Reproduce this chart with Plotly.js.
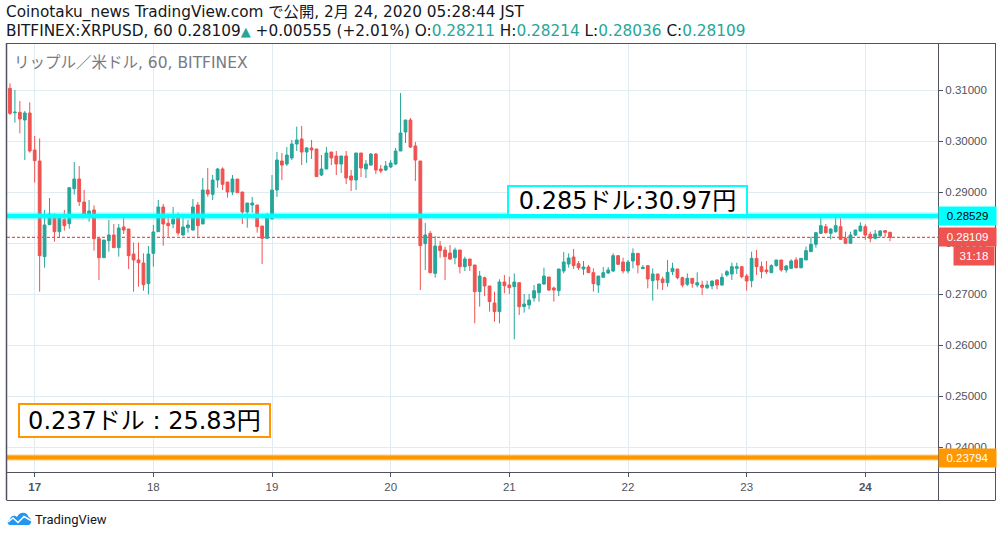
<!DOCTYPE html>
<html>
<head>
<meta charset="utf-8">
<script src="https://cdn.plot.ly/plotly-3.0.1.min.js"></script>
<style>
html,body{margin:0;padding:0;background:#fff;}
#chart{width:1002px;height:537px;}
</style>
</head>
<body>
<div id="chart"></div>
<script>
// ---- data (hourly candles, BITFINEX:XRPUSD, 60) ----
const startTime = '2020-02-16T19:00:00Z';
const open = [0.31033,0.30555,0.30562,0.30412,0.30549,0.29824,0.29608,0.27732,0.28360,0.28549,
0.28222,0.28464,0.28379,0.29065,0.29255,0.28804,0.28536,0.28647,0.28085,0.27712,
0.28046,0.28157,0.27909,0.28314,0.28275,0.27784,0.27667,0.27608,0.27203,0.27797,
0.28222,0.28706,0.28386,0.28373,0.28497,0.28157,0.28301,0.28255,0.28745,0.28373,
0.29039,0.28954,0.29235,0.29451,0.29196,0.29000,0.29255,0.29000,0.28608,0.28745,
0.28745,0.28333,0.28092,0.28471,0.29039,0.29608,0.29549,0.29667,0.29941,0.30039,
0.29784,0.29863,0.29843,0.29333,0.29451,0.29784,0.29706,0.29549,0.29706,0.29314,
0.29235,0.29765,0.29451,0.29529,0.29745,0.29451,0.29431,0.29490,0.29549,0.29804,
0.30176,0.30412,0.29902,0.29608,0.27987,0.28190,0.27405,0.27941,0.27863,0.27804,
0.27712,0.27863,0.27536,0.27686,0.27569,0.27046,0.27320,0.27157,0.26824,0.26654,
0.27235,0.27177,0.27144,0.27222,0.26752,0.26784,0.26922,0.27026,0.27196,0.27333,
0.27118,0.27065,0.27451,0.27588,0.27725,0.27595,0.27490,0.27529,0.27418,0.27177,
0.27327,0.27412,0.27451,0.27752,0.27627,0.27451,0.27647,0.27797,0.27497,0.27556,
0.27261,0.27392,0.27294,0.27222,0.27438,0.27490,0.27320,0.27190,0.27307,0.27176,
0.27176,0.27124,0.27157,0.27275,0.27176,0.27373,0.27392,0.27503,0.27536,0.27353,
0.27261,0.27699,0.27536,0.27471,0.27418,0.27556,0.27667,0.27471,0.27503,0.27667,
0.27516,0.27667,0.27830,0.27974,0.28190,0.28320,0.28190,0.28222,0.28320,0.28092,
0.27993,0.28157,0.28235,0.28320,0.28170,0.28092,0.28144,0.28242,0.28211];
const high = [0.31131,0.31000,0.30784,0.30588,0.30758,0.30098,0.30052,0.28647,0.28882,0.28582,
0.28490,0.28647,0.29085,0.29588,0.29510,0.29039,0.28843,0.28739,0.28085,0.28059,
0.28451,0.28373,0.28373,0.28510,0.28275,0.28007,0.28007,0.27797,0.27941,0.28353,
0.28843,0.28765,0.28490,0.28706,0.28595,0.28529,0.28451,0.28863,0.28804,0.29275,
0.29471,0.29333,0.29471,0.29484,0.29196,0.29333,0.29255,0.29000,0.28784,0.28902,
0.28745,0.28333,0.28588,0.29333,0.29784,0.29765,0.29882,0.30020,0.30281,0.30294,
0.29882,0.30020,0.29843,0.29725,0.29882,0.29784,0.29804,0.29706,0.29804,0.29431,
0.29765,0.29765,0.29627,0.29765,0.29765,0.29529,0.29608,0.29627,0.29863,0.30941,
0.30412,0.30451,0.29980,0.29608,0.28392,0.28235,0.28137,0.28039,0.27928,0.27961,
0.27909,0.27863,0.27732,0.27686,0.27569,0.27451,0.27340,0.27157,0.27046,0.27288,
0.27373,0.27340,0.27405,0.27222,0.27000,0.27000,0.27177,0.27196,0.27516,0.27333,
0.27144,0.27490,0.27824,0.27797,0.27882,0.27647,0.27647,0.27569,0.27503,0.27353,
0.27529,0.27529,0.27797,0.27752,0.27712,0.27667,0.27895,0.27797,0.27569,0.27569,
0.27503,0.27392,0.27340,0.27667,0.27614,0.27490,0.27340,0.27405,0.27307,0.27425,
0.27261,0.27261,0.27261,0.27288,0.27405,0.27471,0.27614,0.27614,0.27536,0.27392,
0.27830,0.27863,0.27634,0.27647,0.27582,0.27667,0.27667,0.27569,0.27680,0.27719,
0.27699,0.27928,0.28124,0.28209,0.28516,0.28373,0.28288,0.28516,0.28516,0.28222,
0.28222,0.28255,0.28405,0.28366,0.28222,0.28255,0.28255,0.28255,0.28214];
const low = [0.30510,0.30360,0.30150,0.29628,0.29771,0.29183,0.27046,0.27516,0.28360,0.28026,
0.28111,0.28242,0.28281,0.28948,0.28725,0.28549,0.28418,0.27850,0.27275,0.27712,
0.27830,0.27909,0.27732,0.28177,0.27490,0.27046,0.27144,0.27065,0.26994,0.27536,
0.28222,0.27948,0.28124,0.28288,0.28144,0.28144,0.28203,0.28242,0.28092,0.28373,
0.28909,0.28843,0.29085,0.29039,0.28889,0.28941,0.28987,0.28373,0.28301,0.28595,
0.28203,0.27588,0.28092,0.28471,0.28902,0.29235,0.29510,0.29627,0.29804,0.29529,
0.29569,0.29647,0.29301,0.29314,0.29451,0.29529,0.29333,0.29373,0.29157,0.29020,
0.29039,0.29294,0.29275,0.29510,0.29353,0.29373,0.29412,0.29471,0.29529,0.29804,
0.29961,0.29863,0.29216,0.27078,0.27471,0.27405,0.27320,0.27712,0.27275,0.27667,
0.27582,0.27405,0.27451,0.27451,0.26425,0.26752,0.26961,0.26654,0.26458,0.26425,
0.27013,0.27000,0.26111,0.26588,0.26634,0.26699,0.26850,0.26850,0.27177,0.27059,
0.26850,0.26961,0.27405,0.27516,0.27490,0.27471,0.27373,0.27418,0.27046,0.27020,
0.27327,0.27392,0.27431,0.27569,0.27405,0.27405,0.27503,0.27405,0.27490,0.27111,
0.26869,0.27092,0.27078,0.27144,0.27373,0.27288,0.27131,0.27157,0.27124,0.27131,
0.26980,0.27098,0.27092,0.27092,0.27163,0.27340,0.27275,0.27392,0.27307,0.27065,
0.27131,0.27373,0.27307,0.27392,0.27418,0.27536,0.27438,0.27418,0.27490,0.27503,
0.27503,0.27667,0.27830,0.27908,0.28176,0.28183,0.28072,0.28203,0.28059,0.27980,
0.27993,0.28137,0.28222,0.28059,0.28013,0.28072,0.28111,0.28124,0.28036];
const close = [0.30543,0.30565,0.30431,0.30549,0.29804,0.29614,0.27752,0.28353,0.28569,0.28222,
0.28490,0.28340,0.29085,0.29255,0.28810,0.28549,0.28627,0.28085,0.27712,0.28059,
0.28157,0.27909,0.28294,0.28255,0.27752,0.27667,0.27614,0.27183,0.27784,0.28216,
0.28706,0.28373,0.28340,0.28471,0.28196,0.28314,0.28353,0.28706,0.28340,0.29039,
0.28961,0.29235,0.29451,0.29150,0.29000,0.29255,0.28987,0.28608,0.28784,0.28784,
0.28320,0.28092,0.28490,0.29039,0.29627,0.29529,0.29725,0.29941,0.30020,0.29784,
0.29863,0.29824,0.29301,0.29451,0.29765,0.29667,0.29549,0.29706,0.29275,0.29235,
0.29765,0.29471,0.29549,0.29745,0.29431,0.29412,0.29510,0.29569,0.29804,0.30157,
0.30412,0.29882,0.29627,0.27948,0.28157,0.27418,0.27941,0.27850,0.27732,0.27686,
0.27863,0.27536,0.27686,0.27556,0.27046,0.27353,0.27157,0.26850,0.26654,0.27235,
0.27163,0.27124,0.27235,0.26752,0.26804,0.26882,0.27065,0.27196,0.27353,0.27078,
0.27078,0.27490,0.27627,0.27706,0.27556,0.27516,0.27529,0.27418,0.27203,0.27353,
0.27418,0.27471,0.27752,0.27582,0.27451,0.27627,0.27797,0.27569,0.27523,0.27294,
0.27392,0.27275,0.27222,0.27425,0.27503,0.27320,0.27176,0.27307,0.27209,0.27222,
0.27131,0.27176,0.27255,0.27176,0.27327,0.27438,0.27536,0.27536,0.27340,0.27255,
0.27699,0.27536,0.27438,0.27438,0.27556,0.27667,0.27471,0.27549,0.27647,0.27516,
0.27699,0.27850,0.27974,0.28203,0.28340,0.28203,0.28274,0.28340,0.28072,0.27993,
0.28157,0.28255,0.28333,0.28157,0.28092,0.28176,0.28235,0.28209,0.28109];

const dayTicks = ['2020-02-17','2020-02-18','2020-02-19','2020-02-20','2020-02-21','2020-02-22','2020-02-23','2020-02-24'];
const dayLabels = ['17','18','19','20','21','22','23','24'];
const levelValues = [0.28529, 0.23794];           // horizontal lines
const levelNotes = ['0.285ドル:30.97円', '0.237ドル : 25.83円'];
const headerTitle = 'Coinotaku_news TradingView.com で公開, 2月 24, 2020 05:28:44 JST';
const symbolName = 'BITFINEX:XRPUSD, 60';
const changeText = '+0.00555 (+2.01%)';
const countdown = '31:18';
const watermark = 'リップル／米ドル, 60, BITFINEX';

// ---- build times ----
function fmt(d){
  const p=n=>String(n).padStart(2,'0');
  return d.getUTCFullYear()+'-'+p(d.getUTCMonth()+1)+'-'+p(d.getUTCDate())+' '+p(d.getUTCHours())+':'+p(d.getUTCMinutes());
}
const t0 = Date.parse(startTime);
const times = open.map((_,i)=>fmt(new Date(t0+i*3600000)));

// ---- layout geometry (pixels) ----
const W=1002,H=537, PL=7, PR=938, PT=43, PB=472;
const px = x => (x-PL)/(PR-PL);
const py = y => (PB-y)/(PB-PT);
const UP='#26a69a', DN='#ef5350', FRAME='#50535e', GRID='#e1ecf2';
const last = close.length-1;
const fmt5 = v => v.toFixed(5);
const HFONT = '"DejaVu Sans", "Noto Sans CJK JP", sans-serif';

const trace = {
  type:'candlestick', x:times, open:open, high:high, low:low, close:close,
  increasing:{line:{color:UP,width:1}, fillcolor:UP},
  decreasing:{line:{color:DN,width:1}, fillcolor:DN},
  whiskerwidth:0, hoverinfo:'skip'
};

const yRange=[0.235098,0.319216];
const xRange=['2020-02-16 18:24','2020-02-24 14:42'];

const shapes = [
  // price level lines
  {type:'line', xref:'paper', x0:0, x1:1, yref:'y', y0:levelValues[0], y1:levelValues[0], line:{color:'rgba(0,255,255,0.45)', width:7}, layer:'above'},
  {type:'line', xref:'paper', x0:0, x1:1, yref:'y', y0:levelValues[0], y1:levelValues[0], line:{color:'#00ffff', width:4}, layer:'above'},
  {type:'line', xref:'paper', x0:0, x1:1, yref:'y', y0:levelValues[1], y1:levelValues[1], line:{color:'rgba(255,152,0,0.45)', width:6}, layer:'above'},
  {type:'line', xref:'paper', x0:0, x1:1, yref:'y', y0:levelValues[1], y1:levelValues[1], line:{color:'#ff9800', width:4}, layer:'above'},
  // last price dashed line
  {type:'line', xref:'paper', x0:0, x1:1, yref:'y', y0:close[last], y1:close[last], line:{color:DN, width:1.3, dash:'3px,2px'}, layer:'above'},
  // frame
  {type:'line', xref:'paper', yref:'paper', x0:px(6.5), x1:px(6.5), y0:py(43), y1:py(500), line:{color:FRAME,width:1.5}},
  {type:'line', xref:'paper', yref:'paper', x0:px(995.5), x1:px(995.5), y0:py(43), y1:py(500), line:{color:FRAME,width:1}},
  {type:'line', xref:'paper', yref:'paper', x0:px(6.5), x1:px(995.5), y0:py(43.5), y1:py(43.5), line:{color:FRAME,width:1}},
  {type:'line', xref:'paper', yref:'paper', x0:px(6.5), x1:px(995.5), y0:py(500.5), y1:py(500.5), line:{color:FRAME,width:1}},
  {type:'line', xref:'paper', yref:'paper', x0:px(938.5), x1:px(938.5), y0:py(43), y1:py(500), line:{color:FRAME,width:1}},
  {type:'line', xref:'paper', yref:'paper', x0:px(6.5), x1:px(995.5), y0:py(472.5), y1:py(472.5), line:{color:FRAME,width:1}}
];

const tagFont = {family:'Liberation Sans, Arial, sans-serif', size:11.5};
const annotations = [
  {xref:'paper', yref:'paper', x:px(5), y:py(13), xanchor:'left', yanchor:'middle', showarrow:false, borderpad:0,
   text:headerTitle, font:{family:HFONT, size:15.3, color:'#131722'}},
  {xref:'paper', yref:'paper', x:px(5), y:py(31), xanchor:'left', yanchor:'middle', showarrow:false, borderpad:0,
   text: symbolName+' '+fmt5(close[last])+'<span style="color:'+UP+';font-size:13px">▲</span> '+changeText+
     ' O:<span style="color:'+UP+'">'+fmt5(open[last])+'</span> H:<span style="color:'+UP+'">'+fmt5(high[last])+
     '</span> L:<span style="color:'+UP+'">'+fmt5(low[last])+'</span> C:<span style="color:'+UP+'">'+fmt5(close[last])+'</span>',
   font:{family:HFONT, size:15.3, color:'#131722'}},
  {xref:'paper', yref:'paper', x:px(13), y:py(63), xanchor:'left', yanchor:'middle', showarrow:false, borderpad:0,
   text:watermark, font:{family:HFONT, size:15.5, color:'#787b86'}},
  // level notes
  {xref:'paper', yref:'paper', x:px(507), y:py(185), xanchor:'left', yanchor:'top', showarrow:false,
   text:levelNotes[0], font:{family:'"DejaVu Sans", "Noto Sans CJK JP", sans-serif', size:24, color:'#000'},
   bgcolor:'#ffffff', bordercolor:'#00ffff', borderwidth:2, borderpad:0, width:237, height:27, align:'center'},
  {xref:'paper', yref:'paper', x:px(18), y:py(403), xanchor:'left', yanchor:'top', showarrow:false,
   text:levelNotes[1], font:{family:'"DejaVu Sans", "Noto Sans CJK JP", sans-serif', size:24, color:'#000'},
   bgcolor:'#ffffff', bordercolor:'#ff9800', borderwidth:2, borderpad:0, width:249, height:31, align:'center'},
  // price axis tags
  {xref:'paper', yref:'y', x:1, y:levelValues[0], xanchor:'left', yanchor:'middle', showarrow:false,
   text:fmt5(levelValues[0]), font:Object.assign({color:'#000'},tagFont), bgcolor:'#00ffff', borderpad:0, width:57, height:18, align:'center'},
  {xref:'paper', yref:'y', x:1, y:close[last], xanchor:'left', yanchor:'middle', showarrow:false,
   text:fmt5(close[last]), font:Object.assign({color:'#fff'},tagFont), bgcolor:DN, borderpad:0, width:57, height:18, align:'center'},
  {xref:'paper', yref:'y', x:px(995), y:close[last], yshift:-19, xanchor:'right', yanchor:'middle', showarrow:false,
   text:countdown, font:Object.assign({color:'#fff'},tagFont), bgcolor:DN, borderpad:0, width:40, height:18, align:'center'},
  {xref:'paper', yref:'y', x:1, y:levelValues[1], xanchor:'left', yanchor:'middle', showarrow:false,
   text:fmt5(levelValues[1]), font:Object.assign({color:'#fff'},tagFont), bgcolor:'#ff9800', borderpad:0, width:57, height:18, align:'center'},
  // footer
  {xref:'paper', yref:'paper', x:px(33), y:py(519), xanchor:'left', yanchor:'middle', showarrow:false,
   text:'TradingView', font:{family:'Roboto, sans-serif', size:13, color:'#131722'}}
];

const logoSvg = '<svg xmlns="http://www.w3.org/2000/svg" width="25" height="14" viewBox="0 0 25 14">'+
 '<path d="M3,14 C0,14 0,9 3,8.5 C3,4.5 8,3.5 10,6 C12,1 20,0 21.5,6 C25,6.5 25,14 21.5,14 Z" fill="#2196f3"/>'+
 '<polyline points="1,11 6,7 11,11.5 17,5.5 24,9.5" fill="none" stroke="#fff" stroke-width="1.6"/></svg>';

const layout = {
  width:W, height:H,
  margin:{l:PL, r:W-PR, t:PT, b:H-PB, pad:0},
  paper_bgcolor:'#ffffff', plot_bgcolor:'#ffffff',
  showlegend:false, boxgap:0.2,
  xaxis:{type:'date', range:xRange, tickvals:dayTicks,
    ticktext:dayLabels.map((l,i)=>(i===0||i===dayLabels.length-1)?'<b>'+l+'</b>':l),
    showgrid:true, gridcolor:GRID, gridwidth:1, ticks:'outside', ticklen:4, tickcolor:FRAME,
    tickfont:{family:'Liberation Sans, Arial, sans-serif', size:11.5, color:'#50535e'},
    showline:false, zeroline:false, rangeslider:{visible:false}, fixedrange:true},
  yaxis:{side:'right', range:yRange, tick0:0.23, dtick:0.01, tickformat:'.5f',
    showgrid:true, gridcolor:GRID, gridwidth:1, ticks:'outside', ticklen:4, tickcolor:FRAME,
    tickfont:{family:'Liberation Sans, Arial, sans-serif', size:11.5, color:'#50535e'},
    showline:false, zeroline:false, fixedrange:true},
  shapes:shapes, annotations:annotations,
  images:[{source:'data:image/svg+xml;charset=utf-8,'+encodeURIComponent(logoSvg), xref:'paper', yref:'paper',
    x:px(7), y:py(511), sizex:25/(PR-PL), sizey:14/(PB-PT), xanchor:'left', yanchor:'top', sizing:'stretch', layer:'above'}]
};

Plotly.newPlot('chart',[trace],layout,{staticPlot:true, displayModeBar:false});
</script>
</body>
</html>
